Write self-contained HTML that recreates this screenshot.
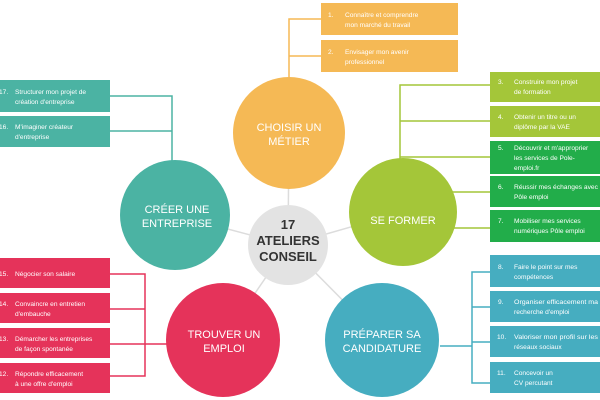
<!DOCTYPE html>
<html><head><meta charset="utf-8"><style>
html,body{margin:0;padding:0;background:#fff;}
svg{display:block;font-family:"Liberation Sans",sans-serif;}
.b{fill:#fff;font-size:6.6px;}
.c{fill:#fff;font-size:11px;text-anchor:middle;}
</style></head><body>
<svg width="600" height="400" viewBox="0 0 600 400" xmlns="http://www.w3.org/2000/svg">
<g stroke="#dcdcdc" stroke-width="1.5">
<line x1="288" y1="245" x2="289" y2="133"/>
<line x1="288" y1="245" x2="175" y2="215"/>
<line x1="288" y1="245" x2="403" y2="212"/>
<line x1="288" y1="245" x2="223" y2="340"/>
<line x1="288" y1="245" x2="382" y2="340"/>
</g>
<g fill="none" stroke-width="1.5">
<path stroke="#f5b955" d="M289 80 V19 H321 M289 56 H321"/>
<path stroke="#4bb3a3" d="M172 165 V96 H110 M172 131 H110"/>
<path stroke="#a4c639" d="M400 160 V85 H490 M400 121 H490 M400 157 H490 M400 192 H490 M400 228 H490 M400 160 V228"/>
<path stroke="#e5335a" d="M110 274 H145 V376 H110 M110 309 H145 M110 344 H170"/>
<path stroke="#46adc0" d="M490 272 H472 V383 H490 M490 307 H472 M490 342 H472 M472 346 H440"/>
</g>
<circle cx="289" cy="133" r="56" fill="#f5b955"/>
<circle cx="175" cy="215" r="55" fill="#4bb3a3"/>
<circle cx="403" cy="212" r="54" fill="#a4c639"/>
<circle cx="223" cy="340" r="57" fill="#e5335a"/>
<circle cx="382" cy="340" r="57" fill="#46adc0"/>
<circle cx="288" cy="245" r="40" fill="#e3e3e3"/>
<text class="c" x="289" y="131">CHOISIR UN</text><text class="c" x="289" y="145">MÉTIER</text>
<text class="c" x="177" y="213">CRÉER UNE</text><text class="c" x="177" y="227">ENTREPRISE</text>
<text class="c" x="403" y="224">SE FORMER</text>
<text class="c" x="224" y="338">TROUVER UN</text><text class="c" x="224" y="352">EMPLOI</text>
<text class="c" x="382" y="338">PRÉPARER SA</text><text class="c" x="382" y="352">CANDIDATURE</text>
<g font-weight="bold" font-size="13" fill="#333" text-anchor="middle">
<text x="288" y="229">17</text><text x="288" y="245">ATELIERS</text><text x="288" y="261">CONSEIL</text></g>
<rect x="321" y="3" width="137" height="32" fill="#f5b955"/>
<rect x="321" y="40" width="137" height="32" fill="#f5b955"/>
<text class="b" x="328" y="17">1.</text><text class="b" x="345" y="17">Connaître et comprendre</text><text class="b" x="345" y="27">mon marché du travail</text>
<text class="b" x="328" y="54">2.</text><text class="b" x="345" y="54">Envisager mon avenir</text><text class="b" x="345" y="64">professionnel</text>
<rect x="0" y="80" width="110" height="32" fill="#4bb3a3"/>
<rect x="0" y="116" width="110" height="31" fill="#4bb3a3"/>
<text class="b" x="-1" y="94">17.</text><text class="b" x="15" y="94">Structurer mon projet de</text><text class="b" x="15" y="104">création d'entreprise</text>
<text class="b" x="-1" y="129">16.</text><text class="b" x="15" y="129">M'imaginer créateur</text><text class="b" x="15" y="139">d'entreprise</text>
<rect x="490" y="72" width="110" height="30" fill="#a4c639"/>
<rect x="490" y="106" width="110" height="31" fill="#a4c639"/>
<rect x="490" y="141" width="110" height="33" fill="#22ad4a"/>
<rect x="490" y="176" width="110" height="31" fill="#22ad4a"/>
<rect x="490" y="210" width="110" height="32" fill="#22ad4a"/>
<text class="b" x="498" y="84">3.</text><text class="b" x="514" y="84">Construire mon projet</text><text class="b" x="514" y="94">de formation</text>
<text class="b" x="498" y="119">4.</text><text class="b" x="514" y="119">Obtenir un titre ou un</text><text class="b" x="514" y="129">diplôme par la VAE</text>
<text class="b" x="498" y="150">5.</text><text class="b" x="514" y="150">Découvrir et m'approprier</text><text class="b" x="514" y="160">les services de Pole-</text><text class="b" x="514" y="170">emploi.fr</text>
<text class="b" x="498" y="189">6.</text><text class="b" x="514" y="189" textLength="84" lengthAdjust="spacingAndGlyphs">Réussir mes échanges avec</text><text class="b" x="514" y="199">Pôle emploi</text>
<text class="b" x="498" y="223">7.</text><text class="b" x="514" y="223">Mobiliser mes services</text><text class="b" x="514" y="233">numériques Pôle emploi</text>
<rect x="0" y="258" width="110" height="30" fill="#e5335a"/>
<rect x="0" y="293" width="110" height="30" fill="#e5335a"/>
<rect x="0" y="328" width="110" height="30" fill="#e5335a"/>
<rect x="0" y="363" width="110" height="30" fill="#e5335a"/>
<text class="b" x="-1" y="276">15.</text><text class="b" x="15" y="276">Négocier son salaire</text>
<text class="b" x="-1" y="306">14.</text><text class="b" x="15" y="306">Convaincre en entretien</text><text class="b" x="15" y="316">d'embauche</text>
<text class="b" x="-1" y="341">13.</text><text class="b" x="15" y="341">Démarcher les entreprises</text><text class="b" x="15" y="351">de façon spontanée</text>
<text class="b" x="-1" y="376">12.</text><text class="b" x="15" y="376">Répondre efficacement</text><text class="b" x="15" y="386">à une offre d'emploi</text>
<rect x="490" y="255" width="110" height="32" fill="#46adc0"/>
<rect x="490" y="291" width="110" height="31" fill="#46adc0"/>
<rect x="490" y="326" width="110" height="31" fill="#46adc0"/>
<rect x="490" y="362" width="110" height="31" fill="#46adc0"/>
<text class="b" x="498" y="269">8.</text><text class="b" x="514" y="269">Faire le point sur mes</text><text class="b" x="514" y="279">compétences</text>
<text class="b" x="498" y="304">9.</text><text class="b" x="514" y="304" textLength="84" lengthAdjust="spacingAndGlyphs">Organiser efficacement ma</text><text class="b" x="514" y="314">recherche d'emploi</text>
<text class="b" x="497" y="339">10.</text><text class="b" x="514" y="339" textLength="84" lengthAdjust="spacingAndGlyphs">Valoriser mon profil sur les</text><text class="b" x="514" y="349">réseaux sociaux</text>
<text class="b" x="497" y="375">11.</text><text class="b" x="514" y="375">Concevoir un</text><text class="b" x="514" y="385">CV percutant</text>
</svg>
</body></html>
